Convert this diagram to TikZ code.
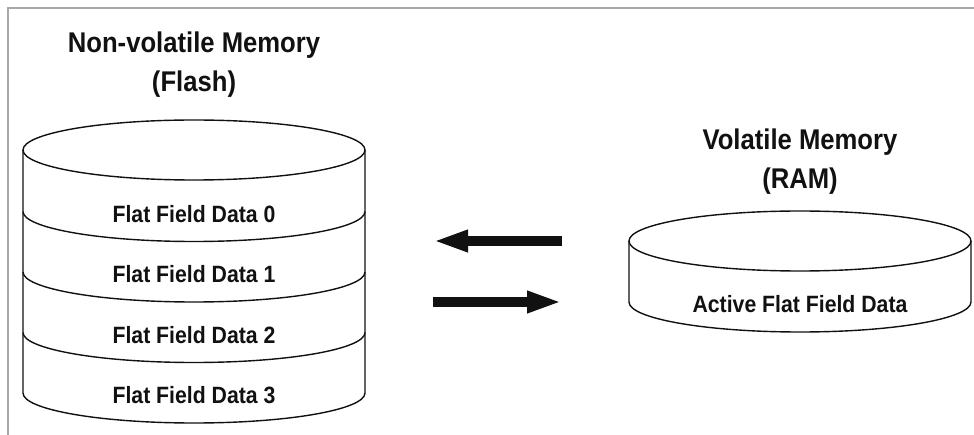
\documentclass[tikz,border=0pt]{standalone}
\usepackage{fontspec}
\setmainfont[FakeStretch=0.9]{Liberation Sans}
\usepackage{xcolor}
\usepackage{tikz}
\usetikzlibrary{arrows.meta,positioning}
\definecolor{memGray}{HTML}{A8A8A8}
\definecolor{memInk}{HTML}{111111}
\tikzset{
  memframe/.style={draw=memGray,line width=2.5pt},
  memline/.style={draw=memInk,line width=1.4pt},
  memtitle/.style={font=\fontsize{28.5}{39}\selectfont\bfseries,align=center,
                   inner sep=0pt,text=memInk},
  memlabel/.style={font=\fontsize{23.6}{28}\selectfont\bfseries,
                   inner sep=0pt,text=memInk},
  memarrow/.style={-{Triangle[length=35pt,width=20pt]},line width=10pt,memInk}
}

\begin{document}
\begin{tikzpicture}[x=1pt,y=1pt]
    \useasboundingbox (0,0) rectangle (974,-435);
    \draw[memframe] (8,-435) -- (8,-8) -- (974,-8);

    % Flash stack
    \node[memtitle] (flashtitle) at (194,-65)
      {Non-volatile Memory\\(Flash)};
    \draw[memline] (23,-150) -- (23,-393)
      arc[start angle=180,end angle=360,x radius=171,y radius=30]
      -- (365,-150);
    \draw[memline] (194,-150) ellipse [x radius=171,y radius=30];
    \draw[memline] (23,-211.5)
      arc[start angle=180,end angle=360,x radius=171,y radius=30];
    \draw[memline] (23,-272)
      arc[start angle=180,end angle=360,x radius=171,y radius=30];
    \draw[memline] (23,-332.5)
      arc[start angle=180,end angle=360,x radius=171,y radius=30];
    \node[memlabel] (ff0) at (194,-214) {Flat Field Data 0};
    \node[memlabel] (ff1) at (194,-274.5) {Flat Field Data 1};
    \node[memlabel] (ff2) at (194,-335) {Flat Field Data 2};
    \node[memlabel] (ff3) at (194,-395.5) {Flat Field Data 3};

    % RAM disk
    \node[memtitle] (ramtitle) at (800,-162)
      {Volatile Memory\\(RAM)};
    \draw[memline] (629,-241) -- (629,-302)
      arc[start angle=180,end angle=360,x radius=171,y radius=30]
      -- (971,-241);
    \draw[memline] (800,-241) ellipse [x radius=171,y radius=30];
    \node[memlabel] (ffactive) at (800,-304) {Active Flat Field Data};

    % load / store
    \coordinate (loadtail) at (562,-241);
    \coordinate (loadtip) at (433,-241);
    \coordinate (storetail) at (433,-302);
    \coordinate (storetip) at (562,-302);
    \draw[memarrow] (loadtail) -- (loadtip);
    \draw[memarrow] (storetail) -- (storetip);
  \end{tikzpicture}
\end{document}
